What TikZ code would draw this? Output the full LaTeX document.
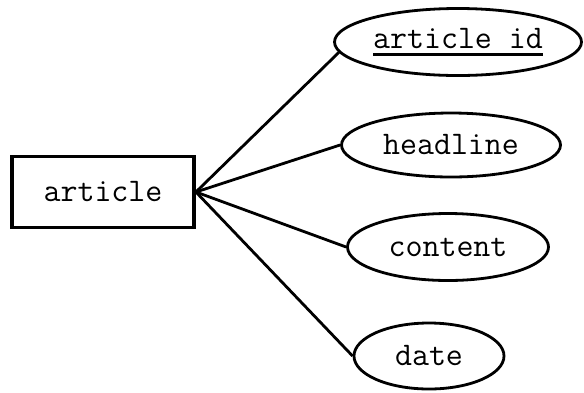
\documentclass[tikz,border=0pt]{standalone}
\usetikzlibrary{shapes.geometric}
\newcommand\keyul[1]{\setbox0\hbox{#1}\rlap{\raisebox{-8pt}{\rule{\wd0}{3pt}}}\box0}
\tikzset{
  entity/.style={draw, line width=3.8pt, rectangle, minimum width=182pt, minimum height=71pt, inner sep=0pt, font=\ttfamily\fontsize{33}{35}\selectfont},
  attr/.style={draw, line width=2.8pt, ellipse, inner sep=0pt, font=\ttfamily\fontsize{33}{35}\selectfont},
  link/.style={line width=2.8pt}
}
\begin{document}
\begin{tikzpicture}[x=1pt,y=-1pt]
\useasboundingbox (0,0) rectangle (584,392);
\node[entity] (art) at (103,192) {article};
\node[attr, minimum width=247pt, minimum height=67pt] (id) at (458,42) {\keyul{article id}};
\node[attr, minimum width=219pt, minimum height=64pt] (head) at (451,145) {headline};
\node[attr, minimum width=201pt, minimum height=67pt] (cont) at (448,247) {content};
\node[attr, minimum width=150pt, minimum height=66pt] (date) at (429,356) {date};
\draw[link] (art.east) -- (id.185);
\draw[link] (art.east) -- (head.west);
\draw[link] (art.east) -- (cont.west);
\draw[link] (art.east) -- (date.west);
\end{tikzpicture}
\end{document}
